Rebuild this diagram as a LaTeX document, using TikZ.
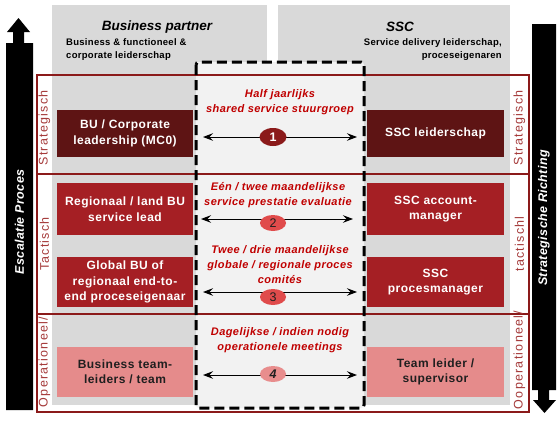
\documentclass[tikz,border=0pt]{standalone}
\usepackage{fontspec}
\setmainfont{Liberation Sans}
\newfontfamily\boxfont[LetterSpace=4]{Liberation Sans}
\newfontfamily\midfont[LetterSpace=4]{Liberation Sans}
\newfontfamily\lblfont[LetterSpace=10]{Liberation Sans}
\newfontfamily\subfont[LetterSpace=3]{Liberation Sans}
\usetikzlibrary{arrows.meta,shapes.geometric}
\definecolor{colgray}{HTML}{D9D9D9}
\definecolor{dashfill}{HTML}{F2F2F2}
\definecolor{framecol}{HTML}{8B1A1A}
\definecolor{darkbox}{HTML}{5E1414}
\definecolor{midbox}{HTML}{A51F24}
\definecolor{pinkbox}{HTML}{E58B8B}
\definecolor{midtext}{HTML}{C00000}
\definecolor{lblcol}{HTML}{A53A3A}
\definecolor{circtwo}{HTML}{E04B4B}
\definecolor{circfour}{HTML}{E88D8D}
\definecolor{darktext}{HTML}{1F1F1F}
\tikzset{
  rolebox/.style={rectangle, inner sep=0pt, align=center,
    font=\boxfont\bfseries\fontsize{12}{15.5}\selectfont},
  darkrole/.style={rolebox, fill=darkbox, text=white},
  midrole/.style={rolebox, fill=midbox, text=white},
  pinkrole/.style={rolebox, fill=pinkbox, text=darktext},
  midlabel/.style={align=center, text=midtext, inner sep=0pt,
    font=\midfont\bfseries\itshape\fontsize{11}{15}\selectfont},
  rowlabel/.style={rotate=90, text=lblcol, inner sep=0pt,
    font=\lblfont\fontsize{12.5}{14}\selectfont},
  arrowlabel/.style={rotate=90, text=white, inner sep=0pt,
    font=\subfont\bfseries\itshape\fontsize{12.5}{14}\selectfont},
  numcirc/.style={ellipse, inner sep=0pt, font=\bfseries\fontsize{12.5}{13}\selectfont},
  linkarrow/.style={{Stealth[length=10pt,width=7.5pt,inset=3.5pt]}-{Stealth[length=10pt,width=7.5pt,inset=3.5pt]}, line width=1pt, black},
  header/.style={inner sep=0pt, font=\bfseries\itshape\fontsize{13.5}{16}\selectfont},
  subheader/.style={inner sep=0pt, font=\subfont\bfseries\fontsize{9.5}{13}\selectfont}
}
\begin{document}
\begin{tikzpicture}[x=1pt,y=-1pt]
\useasboundingbox (0,0) rectangle (560,423);
\fill[white] (0,0) rectangle (560,423);
% gray columns
\fill[colgray] (52,5) rectangle (267,405);
\fill[colgray] (278,5) rectangle (510,405);
% dashed box fill
\fill[dashfill, rounded corners=3pt] (196,62) rectangle (364,408);
% frame
\draw[framecol, line width=2.2pt] (37,75) rectangle (529,412);
\draw[framecol, line width=2.2pt] (37,174) -- (529,174);
\draw[framecol, line width=2.2pt] (37,314) -- (529,314);
% dashed border
\draw[black, line width=3pt, dash pattern=on 10pt off 5pt, rounded corners=3pt] (196,62) rectangle (364,408);
% black arrows
\fill[black] (6,410) -- (6,43) -- (13,43) -- (13,32) -- (7,32) -- (18.5,18) -- (30,32) -- (24,32) -- (24,43) -- (33,43) -- (33,410) -- cycle;
\fill[black] (532,24) -- (556,24) -- (556,390) -- (549,390) -- (549,400) -- (556,400) -- (544.5,413) -- (533,400) -- (538,400) -- (538,390) -- (532,390) -- cycle;
\node[arrowlabel] (esc) at (19.5,222) {Escalatie Proces};
\node[arrowlabel] (str) at (544,218) {Strategische Richting};
% headers
\node[header] (hbp) at (157,27) {Business partner};
\node[subheader, anchor=west, align=left] (sbp) at (66,49.5) {Business \& functioneel \&\\corporate leiderschap};
\node[header] (hssc) at (400,27) {SSC};
\node[subheader, anchor=east, align=right] (sssc) at (502,50) {Service delivery leiderschap,\\proceseigenaren};
% row labels
\node[rowlabel] (ls) at (44.5,128) {Strategisch};
\node[rowlabel] (rs) at (519.5,128) {Strategisch};
\node[rowlabel] (lt) at (44.5,244) {Tactisch};
\node[rowlabel] (rt) at (519.5,244) {tactischl};
\node[rowlabel] (lo) at (44.5,362) {Operationeel/};
\node[rowlabel] (ro) at (519.5,360) {Ooperationeel/};
% role boxes
\node[darkrole, minimum width=136pt, minimum height=47pt] (bu) at (125,133.5) {BU / Corporate\\leadership (MC0)};
\node[darkrole, minimum width=137pt, minimum height=47pt] (sscl) at (435.5,133.5) {SSC leiderschap};
\node[midrole, minimum width=136pt, minimum height=52pt] (reg) at (125,209) {Regionaal / land BU\\service lead};
\node[midrole, minimum width=137pt, minimum height=52pt] (acc) at (435.5,209) {SSC account-\\manager};
\node[midrole, minimum width=136pt, minimum height=50pt] (glob) at (125,282) {Global BU of\\regionaal end-to-\\end proceseigenaar};
\node[midrole, minimum width=137pt, minimum height=50pt] (proc) at (435.5,282) {SSC\\procesmanager};
\node[pinkrole, minimum width=136pt, minimum height=50pt] (bt) at (125,372) {Business team-\\leiders / team};
\node[pinkrole, minimum width=137pt, minimum height=50pt] (tl) at (435.5,372) {Team leider /\\supervisor};
% middle texts
\node[midlabel] (m1) at (280,102.5) {Half jaarlijks\\shared service stuurgroep};
\node[midlabel] (m2) at (278,195.5) {Eén / twee maandelijkse\\service prestatie evaluatie};
\node[midlabel] (m3) at (280,265) {Twee / drie maandelijkse\\globale / regionale proces\\comités};
\node[midlabel] (m4) at (280,340.5) {Dagelijkse / indien nodig\\operationele meetings};
% link arrows
\coordinate (l1) at (203,137); \coordinate (r1) at (357,137);
\coordinate (l2) at (201,219); \coordinate (r2) at (353,219);
\coordinate (l3) at (203,292); \coordinate (r3) at (357,292);
\coordinate (l4) at (203,375); \coordinate (r4) at (357,375);
\draw[linkarrow] (l1) -- (r1);
\draw[linkarrow] (l2) -- (r2);
\draw[linkarrow] (l3) -- (r3);
\draw[linkarrow] (l4) -- (r4);
% number circles
\node[numcirc, fill=framecol, text=white, minimum width=27pt, minimum height=18pt] (c1) at (273,137) {1};
\node[numcirc, fill=circtwo, text=darktext, minimum width=26pt, minimum height=16pt, font=\fontsize{12.5}{13}\selectfont] (c2) at (273,223) {2};
\node[numcirc, fill=circtwo, text=darktext, minimum width=26pt, minimum height=16pt, font=\fontsize{12.5}{13}\selectfont] (c3) at (273,297) {3};
\node[numcirc, fill=circfour, text=darktext, minimum width=26pt, minimum height=16pt, font=\bfseries\itshape\fontsize{12.5}{13}\selectfont] (c4) at (273,374) {4};
\end{tikzpicture}
\end{document}
